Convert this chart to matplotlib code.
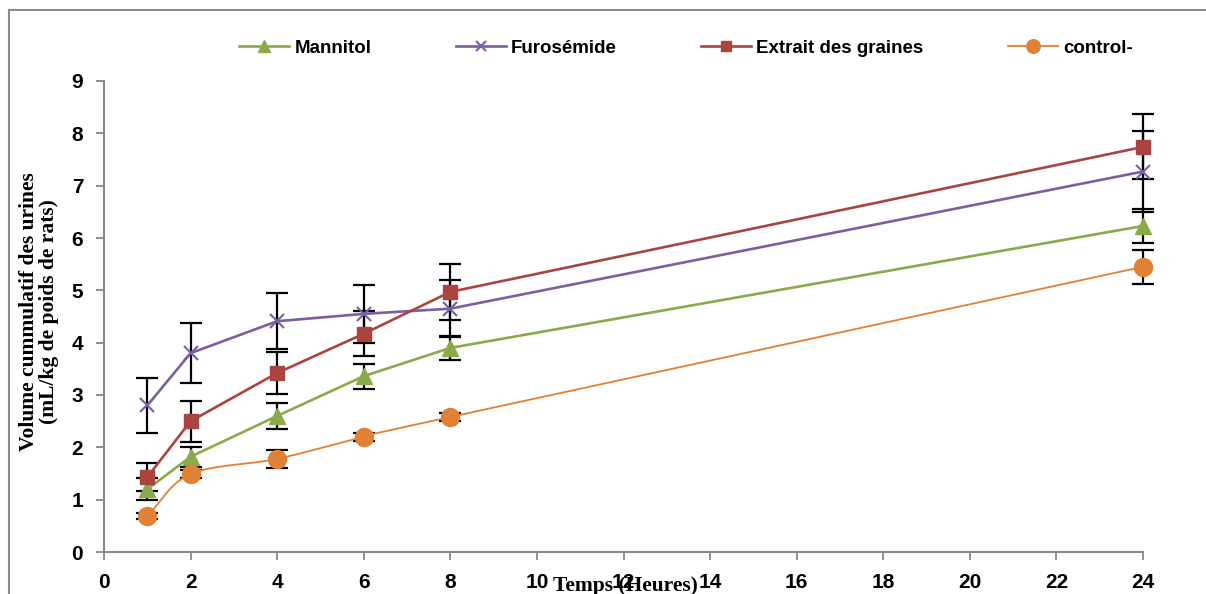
import numpy as np
import matplotlib
matplotlib.use("Agg")
import matplotlib.pyplot as plt
from matplotlib.lines import Line2D

# data
hours = [1, 2, 4, 6, 8, 24]
mannitol = [1.20, 1.82, 2.60, 3.36, 3.90, 6.23]
mannitol_err = [0.21, 0.19, 0.25, 0.24, 0.23, 0.33]
furosemide = [2.80, 3.80, 4.41, 4.55, 4.65, 7.27]
furosemide_err = [0.53, 0.57, 0.54, 0.56, 0.55, 0.78]
extrait = [1.43, 2.50, 3.42, 4.17, 4.97, 7.74]
extrait_err = [0.27, 0.39, 0.41, 0.43, 0.53, 0.62]
control = [0.69, 1.49, 1.78, 2.20, 2.58, 5.45]
control_err = [0.05, 0.08, 0.17, 0.08, 0.08, 0.33]

labels = ["Mannitol", "Furosémide", "Extrait des graines", "control-"]
x_ticks = list(range(0, 25, 2))
y_ticks = list(range(0, 10))


def smooth(x, y, n=30):
    # catmull-rom curve through the points (Excel "smoothed line")
    x = np.asarray(x, float)
    y = np.asarray(y, float)
    px = np.concatenate(([2 * x[0] - x[1]], x, [2 * x[-1] - x[-2]]))
    py = np.concatenate(([2 * y[0] - y[1]], y, [2 * y[-1] - y[-2]]))
    xs, ys = [], []
    t = np.linspace(0, 1, n)
    for i in range(1, len(px) - 2):
        for p, out in ((px, xs), (py, ys)):
            p0, p1, p2, p3 = p[i - 1], p[i], p[i + 1], p[i + 2]
            out.extend(0.5 * ((2 * p1) + (-p0 + p2) * t
                              + (2 * p0 - 5 * p1 + 4 * p2 - p3) * t ** 2
                              + (-p0 + 3 * p1 - 3 * p2 + p3) * t ** 3))
    return xs, ys


fig = plt.figure(figsize=(12.06, 5.94), dpi=100)
ax = fig.add_axes([104 / 1206, 1 - 552 / 594, (1143 - 104) / 1206, (552 - 81) / 594])

green = "#8BAA4A"
purple = "#7B5FA0"
red = "#AA4441"
orange = "#E08136"

for vals, err in ((mannitol, mannitol_err), (furosemide, furosemide_err),
                  (extrait, extrait_err), (control, control_err)):
    eb = ax.errorbar(hours, vals, yerr=err, fmt="none", ecolor="black",
                     elinewidth=1.6, capsize=8, capthick=1.6, zorder=2)
    for art in eb.lines[1] + eb.lines[2]:
        art.set_clip_on(False)

ax.plot(hours, mannitol, color=green, lw=1.9, marker="^", ms=11, zorder=3,
        clip_on=False, label=labels[0])
ax.plot(hours, furosemide, color=purple, lw=1.9, marker="x", ms=10, mew=1.5, zorder=3,
        clip_on=False, label=labels[1])
ax.plot(hours, extrait, color=red, lw=1.9, marker="s", ms=10, zorder=3,
        clip_on=False, label=labels[2])
sx, sy = smooth(hours, control)
ax.plot(sx, sy, color=orange, lw=1.3, zorder=3, clip_on=False)
ax.plot(hours, control, color=orange, lw=0, marker="o", ms=13, zorder=3, clip_on=False)
h_ctrl = Line2D([], [], color=orange, lw=1.3, marker="o", ms=13)

ax.set_xlim(0, 24)
ax.set_ylim(0, 9)
ax.set_xticks(x_ticks)
ax.set_yticks(y_ticks)
for s in ("top", "right"):
    ax.spines[s].set_visible(False)
for s in ("left", "bottom"):
    ax.spines[s].set_color("#888888")
    ax.spines[s].set_linewidth(1.5)
ax.tick_params(axis="both", length=6, width=1.3, color="#888888", pad=9,
               labelsize=15)
for lab in ax.get_xticklabels() + ax.get_yticklabels():
    lab.set_fontfamily("Liberation Sans")
    lab.set_fontweight("bold")

handles = ax.get_legend_handles_labels()[0] + [h_ctrl]
fig.legend(handles, labels, loc="center", bbox_to_anchor=(686 / 1206, 1 - 48 / 594),
           ncol=4, frameon=False, handlelength=2.67, handletextpad=0.27,
           columnspacing=4.5, markerscale=0.75,
           prop={"family": "Liberation Sans", "weight": "bold", "size": 13.5})

fig.text(625 / 1206, 1 - 586 / 594, "Temps (Heures)", ha="center", va="center",
         family="Liberation Serif", weight="bold", fontsize=15.5)
fig.text(39 / 1206, 1 - 312 / 594, "Volume cummulatif des urines\n(mL/kg de poids de rats)",
         ha="center", va="center", rotation=90, multialignment="center",
         family="Liberation Serif", weight="bold", fontsize=15.5, linespacing=1.0)

# outer chart frame (cut off at right and bottom)
fig.add_artist(Line2D([9 / 1206, 9 / 1206], [0, 1 - 10 / 594], transform=fig.transFigure,
                      color="#8c8c8c", lw=1.5))
fig.add_artist(Line2D([9 / 1206, 1], [1 - 10 / 594, 1 - 10 / 594], transform=fig.transFigure,
                      color="#8c8c8c", lw=1.5))

fig.savefig("out.png", dpi=100)
